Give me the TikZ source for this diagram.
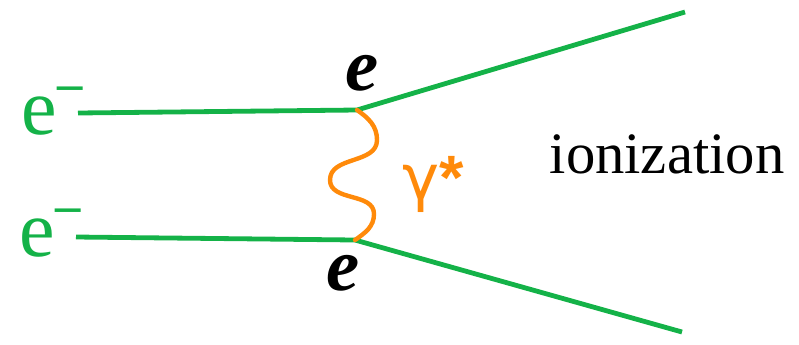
\documentclass[tikz,border=0pt]{standalone}
\usepackage{fontspec}
\setmainfont{Liberation Serif}
\newfontfamily\labelsans{Liberation Sans}
\newfontfamily\greeksans{DejaVu Sans}
\definecolor{elgreen}{RGB}{20,178,72}
\definecolor{phorange}{RGB}{255,138,10}
\tikzset{
  fermion/.style={elgreen,line width=3.6pt},
  photon/.style={phorange,line width=3.3pt,line cap=round},
  vlabel/.style={font=\fontsize{56}{56}\selectfont\bfseries\itshape},
  elabel/.style={elgreen,font=\fontsize{60}{60}\selectfont\rmfamily},
}
\begin{document}
\begin{tikzpicture}[x=0.75pt,y=-0.75pt]
  \useasboundingbox (0,0) rectangle (799,344);
  % incoming electrons
  \coordinate (in1) at (78,113);
  \coordinate (in2) at (76,237);
  \coordinate (vt) at (357,110);
  \coordinate (vb) at (355,240);
  \coordinate (out1) at (685,12);
  \coordinate (out2) at (682,332);
  \draw[fermion] (in1) -- (vt) -- (out1);
  \draw[fermion] (in2) -- (vb) -- (out2);
  % virtual photon
  \draw[photon] (vt) to[out=-35,in=90] (377,140) to[out=-90,in=90] (330,180)
    to[out=-90,in=90] (374,214) to[out=-90,in=35] (vb);
  \node[elabel] (e1) at (52,111) {e\raisebox{0.42em}{\fontsize{38}{38}\selectfont\bfseries –}};
  \node[elabel] (e2) at (50,233) {e\raisebox{0.42em}{\fontsize{38}{38}\selectfont\bfseries –}};
  \node[vlabel] (lt) at (362,73) {e};
  \node[vlabel] (lb) at (343,273) {e};
  \node[phorange,font=\fontsize{47}{47}\selectfont] (g) at (433,184)
    {{\greeksans γ}{\labelsans\bfseries *}};
  \node[font=\fontsize{44}{44}\selectfont] (ion) at (667,154) {ionization};
\end{tikzpicture}
\end{document}
